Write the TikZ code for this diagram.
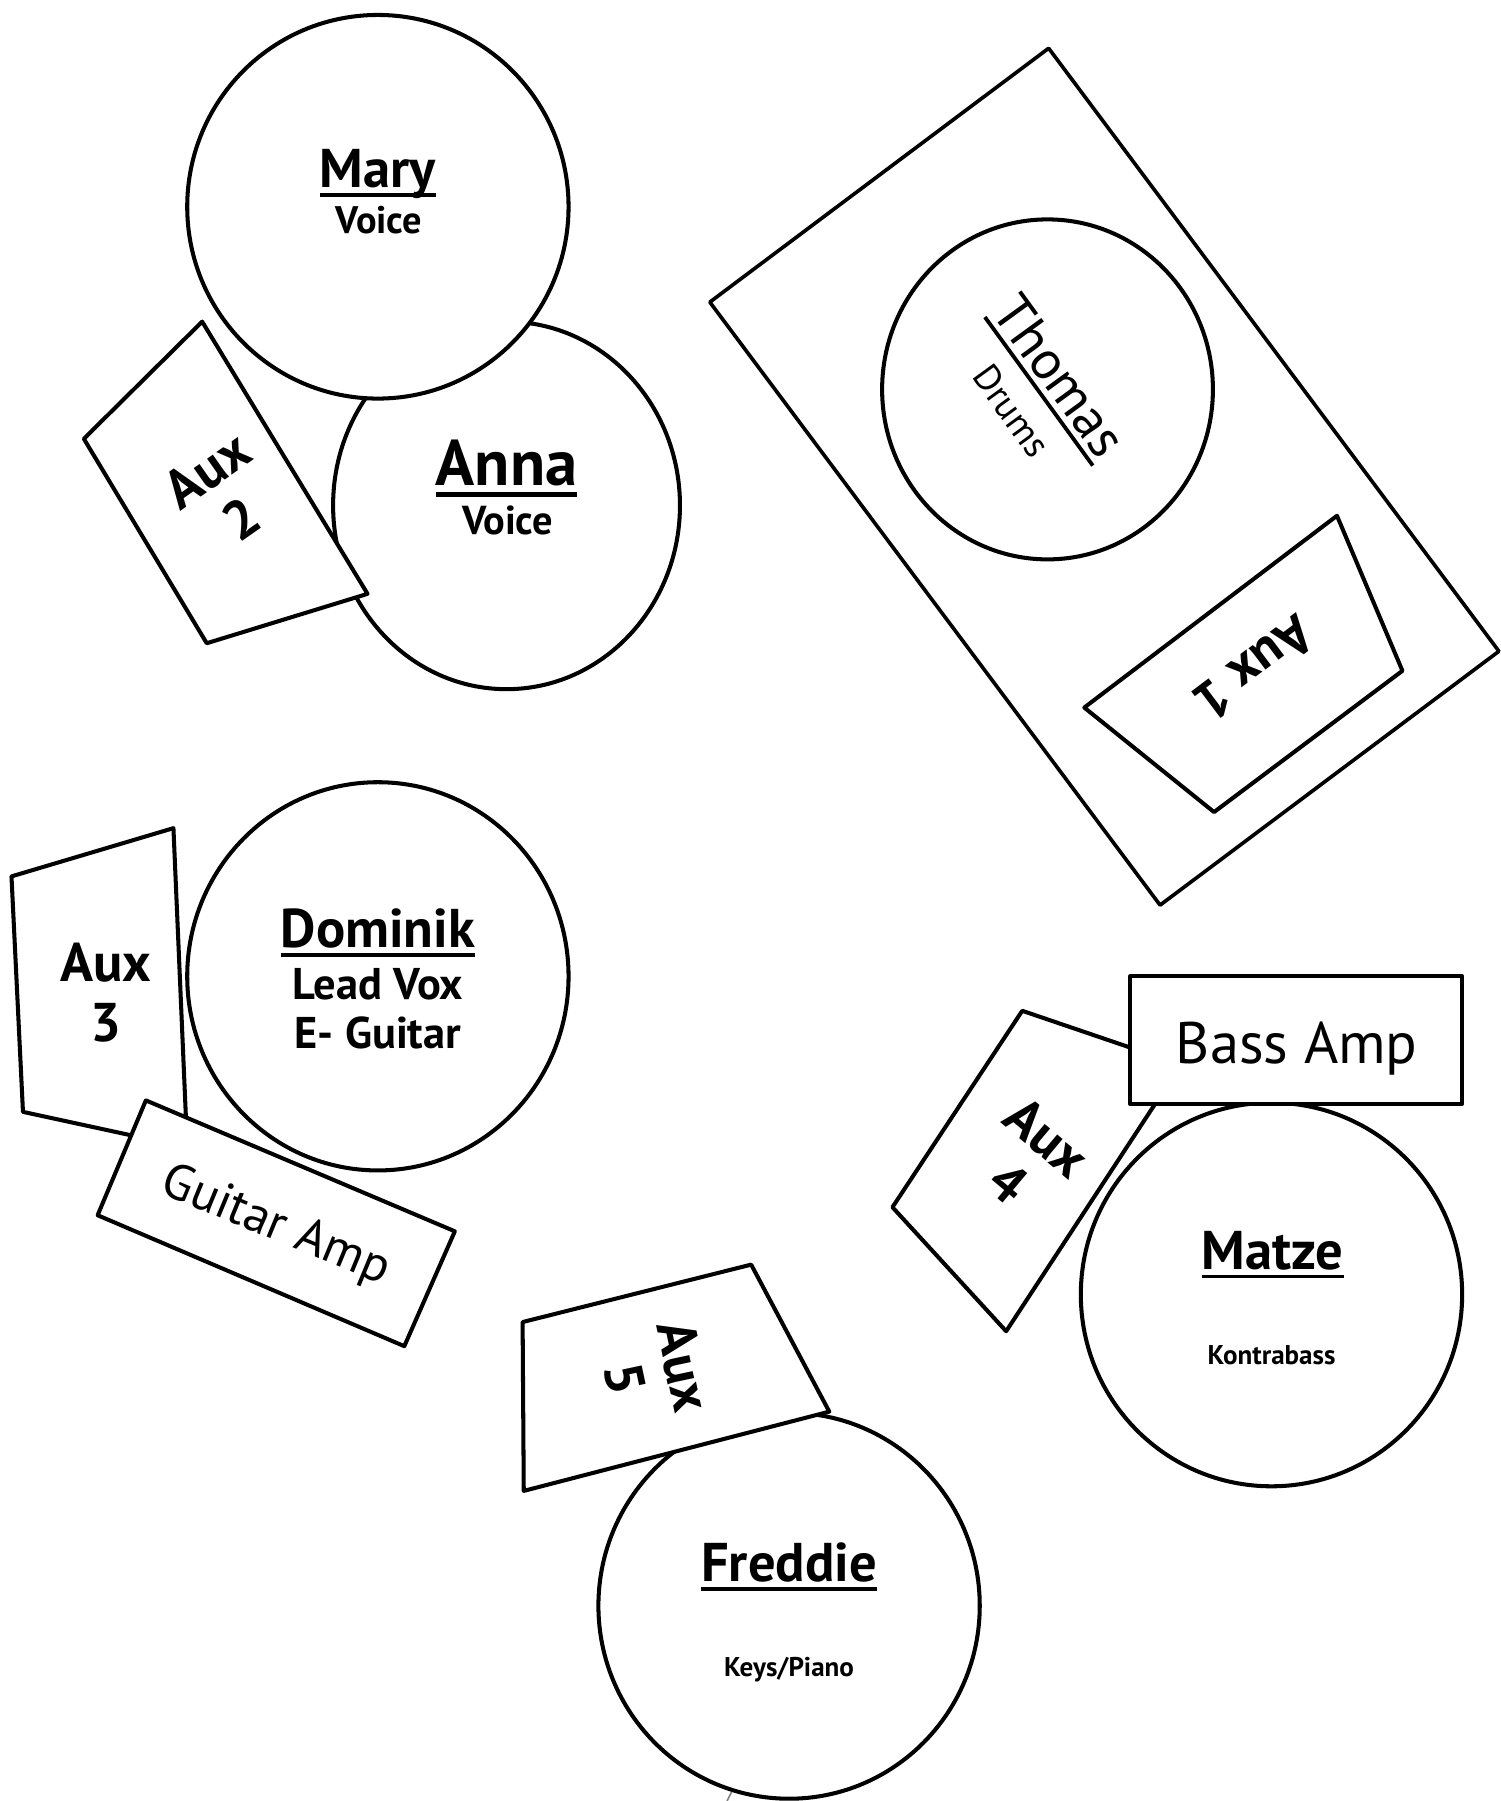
\documentclass[tikz,border=0pt]{standalone}
\usepackage{fontspec}
\setmainfont{PT Sans}
\newcommand{\nameul}[1]{\setbox0=\hbox{#1}\rlap{\rule[-0.17em]{\wd0}{0.07em}}\box0}
\newcommand{\fs}[1]{\fontsize{#1}{1.1\dimexpr #1pt\relax}\selectfont}

\begin{document}
\begin{tikzpicture}[x=0.01cm, y=-0.01cm, line width=1pt, line join=round,
	stage/.style={draw, fill=white},
	who/.style={font=\bfseries\fs{13.5}, anchor=base, inner sep=0pt},
	role/.style={font=\bfseries\fs{9.5}, anchor=base, inner sep=0pt},
	aux/.style={font=\bfseries\fontsize{13.5}{14.8}\selectfont, align=center, inner sep=0pt},
	amp/.style={font=\fs{13.5}, inner sep=0pt}]
	\useasboundingbox (0,0) rectangle (1306,1568);

	% Mary, Anna, Aux 2
	\draw[stage] (441,440) ellipse [x radius=151, y radius=160];
	\draw[stage] (329,180) ellipse [x radius=166, y radius=167];
	\draw[stage] (176,280) -- (320,517) -- (180,560) -- (73,382) -- cycle;
	\node[who] (mary) at (329,163) {\nameul{Mary}};
	\node[role] (mary_role) at (330,203) {Voice};
	\node[who, font=\bfseries\fs{16}] (anna) at (441,423) {\nameul{Anna}};
	\node[role, font=\bfseries\fs{10}] (anna_role) at (442,465) {Voice};
	\node[aux, rotate=35] (aux2) at (195,430) {Aux\\2};

	% Thomas, Aux 1
	\draw[stage, line width=0.9pt] (913,42) -- (1305,567) -- (1010,788) -- (618,263) -- cycle;
	\draw[stage] (912,339) ellipse [x radius=144, y radius=148];
	\draw[stage] (1164,449) -- (1221,584) -- (1057,707) -- (944,616) -- cycle;
	\node[amp, align=center, font=\fontsize{13.5}{14.9}\selectfont, rotate=-54] (thomas) at (904,341)
		{\nameul{Thomas}\\[-1.6pt]{\fs{9.2}Drums}};
	\node[aux, rotate=217] (aux1) at (1092,582) {Aux 1};

	% Dominik, Aux 3, Guitar Amp
	\draw[stage] (329,850) ellipse [x radius=166, y radius=169];
	\draw[stage] (10,763) -- (151,721) -- (163,999) -- (20,968) -- cycle;
	\draw[stage] (127,958) -- (396,1072) -- (352,1172) -- (85,1058) -- cycle;
	\node[who] (dominik) at (329,825) {\nameul{Dominik}};
	\node[role, font=\bfseries\fs{11}] (dominik_role) at (329,870) {Lead Vox};
	\node[role, font=\bfseries\fs{11}] (dominik_role2) at (329,913) {E- Guitar};
	\node[aux] (aux3) at (92,864) {Aux\\3};
	\node[amp, font=\fs{12.5}, rotate=-22.5] (guitar_amp) at (240,1068) {Guitar Amp};

	% Matze, Aux 4, Bass Amp
	\draw[stage] (1107,1127) ellipse [x radius=166, y radius=167];
	\draw[stage] (890,880) -- (1028,927) -- (876,1159) -- (777,1051) -- cycle;
	\draw[stage] (984,850) rectangle (1273,961);
	\node[who] (matze) at (1108,1105) {\nameul{Matze}};
	\node[role, font=\bfseries\fs{6.7}] (matze_role) at (1107,1188) {Kontrabass};
	\node[aux, rotate=-40] (aux4) at (895,1010) {Aux\\4};
	\node[amp, font=\fs{14.5}, anchor=base] (bass_amp) at (1129,926) {Bass Amp};

	% Freddie, Aux 5
	\draw[stage] (687,1398) ellipse [x radius=166, y radius=168];
	\draw[stage] (455,1151) -- (654,1101) -- (722,1229) -- (456,1298) -- cycle;
	\node[who] (freddie) at (687,1377) {\nameul{Freddie}};
	\node[role, font=\bfseries\fs{6.7}] (freddie_role) at (687,1460) {Keys/Piano};
	\node[aux, rotate=-78] (aux5) at (570,1195) {Aux\\5};
	\draw[gray, line width=0.4pt] (633,1568) -- (637,1560);
\end{tikzpicture}
\end{document}
